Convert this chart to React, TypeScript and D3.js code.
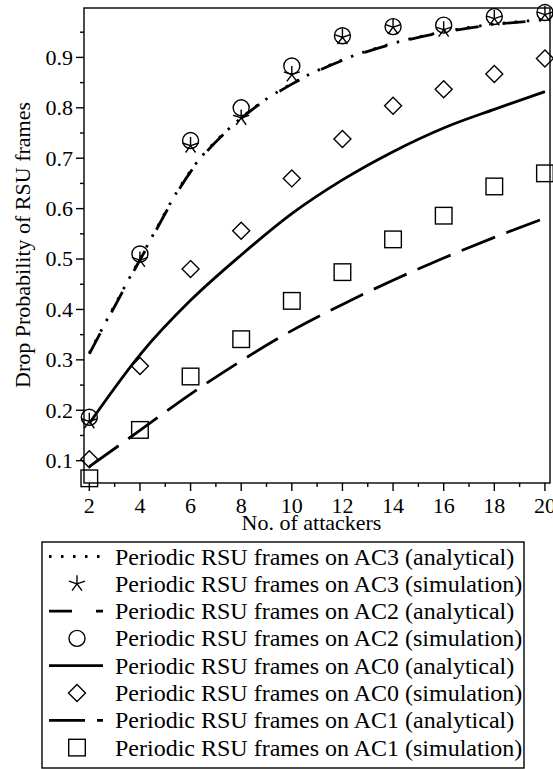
import React from "react";
import * as d3 from "d3";

const attackers = [2, 4, 6, 8, 10, 12, 14, 16, 18, 20];
const ac3Analytical = [0.314, 0.5, 0.675, 0.78, 0.848, 0.895, 0.928, 0.951, 0.966, 0.975];
const ac2Analytical = [0.312, 0.498, 0.673, 0.779, 0.847, 0.894, 0.927, 0.95, 0.965, 0.974];
const ac0Analytical = [0.174, 0.31, 0.418, 0.508, 0.59, 0.657, 0.713, 0.76, 0.797, 0.832];
const ac1Analytical = [0.088, 0.16, 0.232, 0.298, 0.358, 0.41, 0.458, 0.502, 0.543, 0.581];
const ac3Simulation = [0.178, 0.498, 0.725, 0.78, 0.866, 0.94, 0.96, 0.955, 0.977, 0.985];
const ac2Simulation = [0.186, 0.51, 0.735, 0.8, 0.883, 0.943, 0.961, 0.964, 0.981, 0.989];
const ac0Simulation = [0.103, 0.288, 0.48, 0.556, 0.66, 0.738, 0.804, 0.837, 0.867, 0.898];
const ac1Simulation = [0.065, 0.161, 0.267, 0.341, 0.417, 0.474, 0.539, 0.586, 0.644, 0.67];

const xMajorTicks = [2, 4, 6, 8, 10, 12, 14, 16, 18, 20];
const xMinorTicks = [3, 5, 7, 9, 11, 13, 15, 17, 19];
const yMajorTicks = [0.1, 0.2, 0.3, 0.4, 0.5, 0.6, 0.7, 0.8, 0.9];
const yMinorTicks = [0.15, 0.25, 0.35, 0.45, 0.55, 0.65, 0.75, 0.85, 0.95];

const legendLabels = [
  "Periodic RSU frames on AC3 (analytical)",
  "Periodic RSU frames on AC3 (simulation)",
  "Periodic RSU frames on AC2 (analytical)",
  "Periodic RSU frames on AC2 (simulation)",
  "Periodic RSU frames on AC0 (analytical)",
  "Periodic RSU frames on AC0 (simulation)",
  "Periodic RSU frames on AC1 (analytical)",
  "Periodic RSU frames on AC1 (simulation)",
];

const W = 553;
const H = 769;
const L = 84, R = 550, T = 8, B = 483;
const FONT = '"Liberation Serif", Tinos, "Times New Roman", "DejaVu Serif", serif';

function Marker({ kind, x, y }: { kind: string; x: number; y: number }) {
  const sw = 1.4;
  if (kind === "circle") return <circle cx={x} cy={y} r={8} fill="none" stroke="#000" strokeWidth={sw} />;
  if (kind === "square") return <rect x={x - 8.3} y={y - 8.3} width={16.6} height={16.6} fill="none" stroke="#000" strokeWidth={sw} />;
  if (kind === "diamond") {
    const s = 8.5;
    return <path d={`M${x},${y - s}L${x + s},${y}L${x},${y + s}L${x - s},${y}Z`} fill="none" stroke="#000" strokeWidth={sw} />;
  }
  const r = 8.5;
  let d = "";
  for (let i = 0; i < 5; i++) {
    const a = -Math.PI / 2 + (i * 2 * Math.PI) / 5;
    d += `M${x},${y}L${x + r * Math.cos(a)},${y + r * Math.sin(a)}`;
  }
  return <path d={d} fill="none" stroke="#000" strokeWidth={sw} />;
}

export default function App() {
  const x = d3.scaleLinear().domain([1.79, 20.2]).range([L, R]);
  const y = d3.scaleLinear().domain([0.0557, 0.998]).range([B, T]);
  const line = d3
    .line<number>()
    .x((_, i) => x(attackers[i]))
    .y((d) => y(d))
    .curve(d3.curveMonotoneX);

  const analytical = [
    { data: ac3Analytical, dash: "2.5 9.5" },
    { data: ac2Analytical, dash: "23 24" },
    { data: ac0Analytical, dash: "" },
    { data: ac1Analytical, dash: "36 12" },
  ];
  const sims = [
    { data: ac3Simulation, kind: "star" },
    { data: ac2Simulation, kind: "circle" },
    { data: ac0Simulation, kind: "diamond" },
    { data: ac1Simulation, kind: "square" },
  ];
  const legendItems = [
    { t: "line", dash: "2.5 9.5" },
    { t: "star" },
    { t: "line", dash: "23 24" },
    { t: "circle" },
    { t: "line", dash: "" },
    { t: "diamond" },
    { t: "line", dash: "36 12" },
    { t: "square" },
  ];
  const lgL = 42, lgR = 524, lgT = 542, lgB = 768;
  const rowY = (i: number) => 556.5 + i * 27.3;
  const ts = { fontFamily: FONT, fontSize: 22 } as React.CSSProperties;
  const lts = { fontFamily: FONT, fontSize: 24 } as React.CSSProperties;

  return (
    <svg width={W} height={H} style={{ position: "absolute", left: 0, top: 0, background: "#fff" }}>
      <defs>
        <clipPath id="lgclip">
          <rect x={lgL} y={lgT} width={lgR - lgL} height={lgB - lgT} />
        </clipPath>
      </defs>
      <rect width={W} height={H} fill="#fff" />
      {analytical.map((s, i) => (
        <path key={i} d={line(s.data) || ""} fill="none" stroke="#000" strokeWidth={2.8} strokeDasharray={s.dash || undefined} />
      ))}
      {sims.map((s, i) => (
        <g key={i}>
          {s.data.map((v, j) => (
            <Marker key={j} kind={s.kind} x={x(attackers[j])} y={y(v)} />
          ))}
        </g>
      ))}
      <rect x={L} y={T} width={R - L} height={B - T} fill="none" stroke="#000" strokeWidth={1.4} />
      {xMajorTicks.map((t) => (
        <g key={t}>
          <line x1={x(t)} x2={x(t)} y1={B} y2={B + 8} stroke="#000" strokeWidth={1.4} />
          <text x={x(t)} y={513} style={ts} textAnchor="middle">{t}</text>
        </g>
      ))}
      {xMinorTicks.map((t) => (
        <line key={t} x1={x(t)} x2={x(t)} y1={B} y2={B + 4} stroke="#000" strokeWidth={1.4} />
      ))}
      {yMajorTicks.map((t) => (
        <g key={t}>
          <line x1={L - 8} x2={L} y1={y(t)} y2={y(t)} stroke="#000" strokeWidth={1.4} />
          <text x={73} y={y(t) + 7.4} style={ts} textAnchor="end">{t.toFixed(1)}</text>
        </g>
      ))}
      {yMinorTicks.map((t) => (
        <line key={t} x1={L - 4} x2={L} y1={y(t)} y2={y(t)} stroke="#000" strokeWidth={1.4} />
      ))}
      <text x={311.5} y={530} style={ts} textAnchor="middle">No. of attackers</text>
      <text transform={`translate(30,245) rotate(-90)`} style={ts} textAnchor="middle">Drop Probability of RSU frames</text>
      <g>
        <g clipPath="url(#lgclip)">
          {legendItems.map((it, i) => (
            <text key={i} x={115} y={rowY(i) + 8} style={lts}>{legendLabels[i]}</text>
          ))}
        </g>
        {legendItems.map((it, i) =>
          it.t === "line" ? (
            <line key={i} x1={49} x2={103} y1={rowY(i)} y2={rowY(i)} stroke="#000" strokeWidth={2.8} strokeDasharray={it.dash || undefined} />
          ) : (
            <Marker key={i} kind={it.t} x={77} y={rowY(i)} />
          )
        )}
        <rect x={lgL} y={lgT} width={lgR - lgL} height={lgB - lgT} fill="none" stroke="#000" strokeWidth={1.4} />
      </g>
    </svg>
  );
}
